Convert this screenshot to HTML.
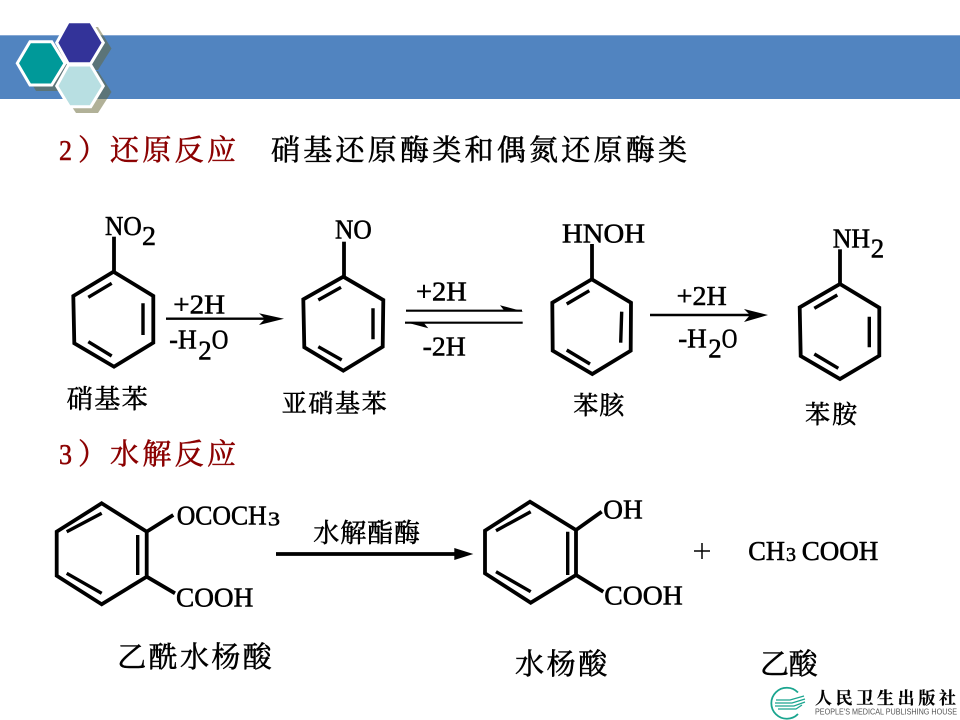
<!DOCTYPE html>
<html lang="zh">
<head>
<meta charset="utf-8">
<title>还原反应与水解反应</title>
<style>
html,body{margin:0;padding:0;background:#fff;width:960px;height:720px;overflow:hidden}
svg{display:block}
.r{fill:none;stroke:#000;stroke-width:3.8;stroke-linejoin:miter}
.i{fill:none;stroke:#000;stroke-width:3.4}
text{fill:#000;stroke:#000;stroke-width:.55}
.e{font-family:"Liberation Serif",serif;font-size:27px}
.c{font-family:"Liberation Serif","Noto Serif CJK SC",serif}
.red{fill:#8b0000;stroke:#8b0000}
</style>
</head>
<body>
<svg width="960" height="720" viewBox="0 0 960 720" xmlns="http://www.w3.org/2000/svg">
<rect x="0" y="35" width="960" height="64" fill="#5184c0"/>
<rect x="0" y="35" width="960" height="1" fill="#86a8d4"/>

<!-- hexagons -->
<g fill="#666633" opacity=".5">
<polygon points="75,27 98,27 111.5,48.5 98,70 75,70 62,48.5"/>
<polygon points="36,47 58,47 71,69 58,91 36,91 23,69"/>
<polygon points="75,71 98,71 111.5,92 98,113 76,113 62,92"/>
</g>
<g stroke="#fff" stroke-width="3">
<polygon fill="#333399" points="68.3,21.7 90.7,21.7 103.3,42.7 90.7,63.7 68.3,63.7 56.7,42.7"/>
<polygon fill="#009999" points="30,41.7 51.7,41.7 65,63.3 51.7,85 30,85 17.3,63.3"/>
<polygon fill="#b8dfe2" points="68.3,65 90.7,65 103.3,86 90.7,106.7 69.3,106.7 56.7,86"/>
</g>
<rect x="0" y="0" width="130" height="21.5" fill="#fff"/>

<!-- headings -->
<text class="c red" x="59" y="160" font-size="29" textLength="13" lengthAdjust="spacingAndGlyphs">2</text>
<text class="c red" x="78" y="160" font-size="29">）</text>
<text class="c red" x="110" y="160" font-size="29" textLength="126" lengthAdjust="spacing">还原反应</text>
<text class="c" x="271" y="160" font-size="29" textLength="416" lengthAdjust="spacing">硝基还原酶类和偶氮还原酶类</text>
<text class="c red" x="59" y="464" font-size="29" textLength="13" lengthAdjust="spacingAndGlyphs">3</text>
<text class="c red" x="78" y="464" font-size="29">）</text>
<text class="c red" x="110" y="464" font-size="29" textLength="126" lengthAdjust="spacing">水解反应</text>

<!-- ring 1 -->
<polygon class="r" points="113.5,271.7 153.3,296 153.3,342.7 114,366.7 74.3,343.3 73.3,296"/>
<path class="i" d="M88.3,297.3L111.7,283.3M143,303.3V335M88.3,341.7L111.7,356"/>
<path class="r" d="M114,271.7V236.7"/>
<text class="e" x="105" y="235" textLength="36.7" lengthAdjust="spacingAndGlyphs">NO</text>
<text class="e" x="142" y="245" textLength="14" lengthAdjust="spacingAndGlyphs">2</text>
<text class="c" x="66.7" y="408" font-size="26" textLength="81" lengthAdjust="spacing">硝基苯</text>

<!-- arrow 1 -->
<path d="M166,318.7H270" stroke="#000" stroke-width="2.4"/>
<polygon points="259,313.2 284,318.7 259,325 265,318.7"/>
<text class="e" x="173.3" y="313.3" textLength="51.7" lengthAdjust="spacingAndGlyphs">+2H</text>
<text class="e" x="169.3" y="348.3" textLength="27.4" lengthAdjust="spacingAndGlyphs">-H</text>
<text class="e" x="198.3" y="359.3" textLength="13.4" lengthAdjust="spacingAndGlyphs">2</text>
<text class="e" x="211.7" y="348.3" textLength="16.6" lengthAdjust="spacingAndGlyphs">O</text>

<!-- ring 2 -->
<polygon class="r" points="343.3,276.7 383.3,300 382.7,346.7 343.3,370.7 304.3,347.3 303.3,299.3"/>
<path class="i" d="M318.3,300L341,287.3M373,308.3V339.3M318.3,346.7L341.7,360"/>
<path class="r" d="M344,276.7V241.7"/>
<text class="e" x="335" y="238.3" textLength="36.7" lengthAdjust="spacingAndGlyphs">NO</text>
<text class="c" x="281.7" y="412" font-size="25" textLength="105" lengthAdjust="spacing">亚硝基苯</text>

<!-- equilibrium -->
<path d="M406,310.7H522M405,322.7H522.7" stroke="#000" stroke-width="2.2"/>
<polygon points="500,305.3 523.5,311.5 505,311.5"/>
<polygon points="428.3,328.3 405,322 423,322"/>
<text class="e" x="416" y="300.7" textLength="50.7" lengthAdjust="spacingAndGlyphs">+2H</text>
<text class="e" x="422.7" y="355.7" textLength="43" lengthAdjust="spacingAndGlyphs">-2H</text>

<!-- ring 3 -->
<polygon class="r" points="591.7,279.3 631,302.7 630.7,350.7 592.3,374 552.7,350.7 552.3,302.7"/>
<path class="i" d="M566.7,304L589.3,290.7M621.7,311.7L620.7,342.7M566.7,350L590,364"/>
<path class="r" d="M592,279.3V244"/>
<text class="e" x="562" y="242.7" textLength="83" lengthAdjust="spacingAndGlyphs">HNOH</text>
<text class="c" x="573.3" y="414" font-size="25" textLength="51" lengthAdjust="spacing">苯胲</text>

<!-- arrow 3 -->
<path d="M650,315H755" stroke="#000" stroke-width="2.4"/>
<polygon points="744,309 768,315 744,322 750,315"/>
<text class="e" x="676.7" y="305" textLength="50" lengthAdjust="spacingAndGlyphs">+2H</text>
<text class="e" x="678.3" y="347.7" textLength="28.4" lengthAdjust="spacingAndGlyphs">-H</text>
<text class="e" x="708.3" y="357.3" textLength="13.4" lengthAdjust="spacingAndGlyphs">2</text>
<text class="e" x="721.7" y="347.7" textLength="15.6" lengthAdjust="spacingAndGlyphs">O</text>

<!-- ring 4 -->
<polygon class="r" points="840,284 879.3,307.7 879.3,355.7 840,379 800.7,356 799.7,307.3"/>
<path class="i" d="M814.3,308.3L837.3,295M869.3,316.7V347.3M814.3,354L838.3,368.3"/>
<path class="r" d="M840,284V249.3"/>
<text class="e" x="832.7" y="247.7" textLength="37.3" lengthAdjust="spacingAndGlyphs">NH</text>
<text class="e" x="870.7" y="257.7" textLength="13.4" lengthAdjust="spacingAndGlyphs">2</text>
<text class="c" x="805" y="423" font-size="25" textLength="52" lengthAdjust="spacing">苯胺</text>

<!-- ring 5 -->
<polygon class="r" points="101.7,503.3 146.7,531.7 146.7,576.7 101.7,604.3 56.7,575.7 56.7,531.7"/>
<path class="i" d="M66.7,531.7L101.7,513.3M137.7,535V575M66.7,573.3L101.7,593.3"/>
<path class="r" d="M146.7,531.7L173.3,515M146.7,576.7L175,593.3"/>
<text class="e" x="176.7" y="524.3" textLength="90" lengthAdjust="spacingAndGlyphs">OCOCH</text>
<text class="e" x="268" y="525.7" style="font-size:20px" textLength="12" lengthAdjust="spacingAndGlyphs">3</text>
<text class="e" x="176" y="606.7" textLength="77.3" lengthAdjust="spacingAndGlyphs">COOH</text>
<text class="c" x="117.3" y="667" font-size="29" textLength="154.4" lengthAdjust="spacing">乙酰水杨酸</text>

<!-- arrow 4 -->
<path d="M276,554H456" stroke="#000" stroke-width="3.8"/>
<polygon points="454.3,548 473.3,554 454.3,560"/>
<text class="c" x="313.3" y="542" font-size="26" textLength="106.7" lengthAdjust="spacing">水解酯酶</text>

<!-- ring 6 -->
<polygon class="r" points="530,501.7 576,530 576,575 530.7,602.7 485,573.3 485,530.7"/>
<path class="i" d="M496,530.7L530.7,511.7M567.7,531.7V575M496,571.7L530.7,591.7"/>
<path class="r" d="M576,530L601.7,511.7M576,575L603.3,591.7"/>
<text class="e" x="603.3" y="518.3" textLength="39.4" lengthAdjust="spacingAndGlyphs">OH</text>
<text class="e" x="604.3" y="604.3" textLength="78.4" lengthAdjust="spacingAndGlyphs">COOH</text>
<text class="c" x="515" y="674" font-size="29" textLength="92.3" lengthAdjust="spacing">水杨酸</text>

<!-- plus and acetic acid -->
<path d="M694,551H710M702,543V559" stroke="#000" stroke-width="1.5"/>
<text class="e" x="748.3" y="560" textLength="36.7" lengthAdjust="spacingAndGlyphs">CH</text>
<text class="e" x="786" y="561" style="font-size:20px" textLength="10" lengthAdjust="spacingAndGlyphs">3</text>
<text class="e" x="801.7" y="560" textLength="76.6" lengthAdjust="spacingAndGlyphs">COOH</text>
<text class="c" x="760" y="674" font-size="29" textLength="57.7" lengthAdjust="spacing">乙酸</text>

<!-- logo -->
<path d="M798,692.5A15.5,15.5 0 1 0 798,714" fill="none" stroke="#1aa58f" stroke-width="1.8"/>
<path d="M776,700H790L804,696M775,703H792L805,699M775,706H794L805,702M778,709H796L802,705" fill="none" stroke="#1aa58f" stroke-width="1.2"/>
<text x="815" y="704" style="font-family:'Liberation Serif','Noto Serif CJK SC',serif;font-size:17px;font-weight:700;stroke-width:.2" textLength="141" lengthAdjust="spacing">人民卫生出版社</text>
<text x="815" y="714.5" style="font-family:'Liberation Sans',sans-serif;font-size:8.5px;fill:#555;stroke:none" textLength="142" lengthAdjust="spacingAndGlyphs">PEOPLE'S MEDICAL PUBLISHING HOUSE</text>
</svg>
</body>
</html>
